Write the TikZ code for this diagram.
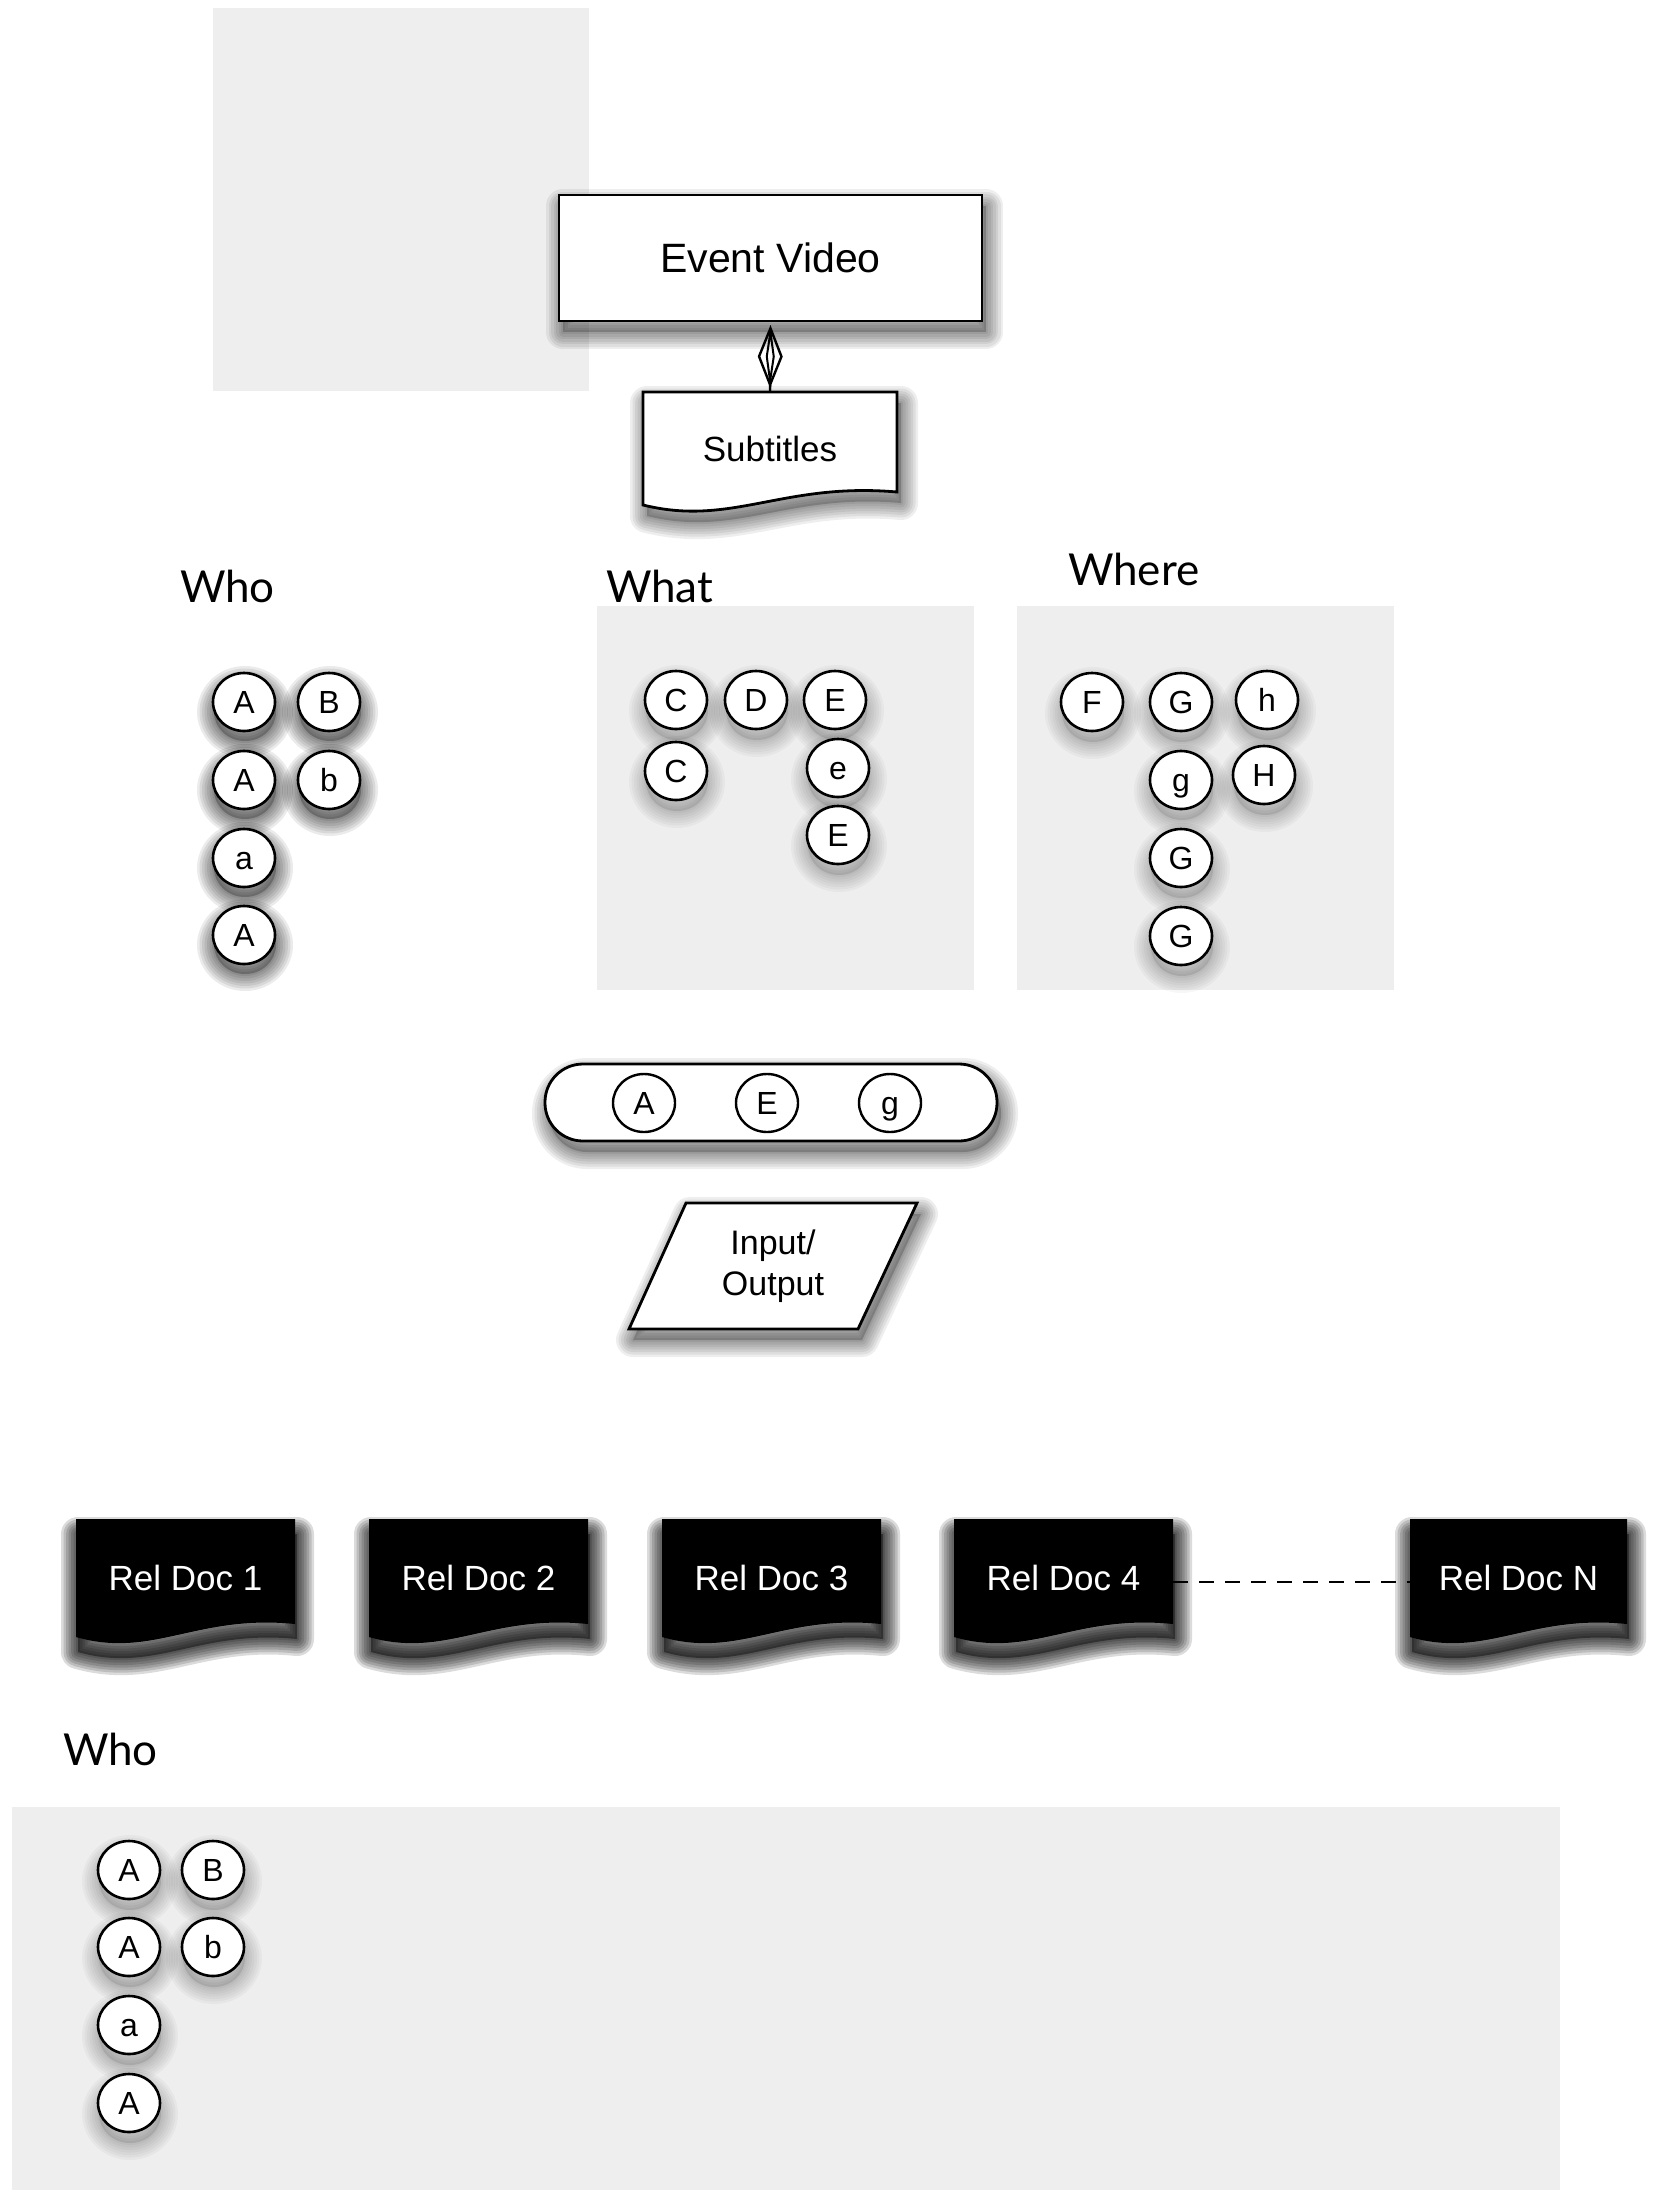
\documentclass[tikz,border=0pt]{standalone}
\usepackage{fontspec}
\setmainfont{Liberation Sans}
\newfontfamily\titlefont{Lato}
\usetikzlibrary{shapes.geometric,arrows.meta,calc}
\pgfdeclarelayer{back}
\pgfdeclarelayer{background}
\pgfsetlayers{back,background,main}
\definecolor{boxgray}{HTML}{EEEEEE}
\tikzset{
  every node/.style={inner sep=0pt, outer sep=0pt},
  shstep/.style n args={4}{preaction={draw=black, fill=none, draw opacity=#3, line width=#4, line join=round, transform canvas={xshift=#1, yshift=#2}}},
  softshadow/.style n args={3}{
    shstep={#1}{#2}{#3}{34pt}, shstep={#1}{#2}{#3}{29pt}, shstep={#1}{#2}{#3}{24pt},
    shstep={#1}{#2}{#3}{19pt}, shstep={#1}{#2}{#3}{14pt}, shstep={#1}{#2}{#3}{9pt},
    shstep={#1}{#2}{#3}{4pt},
    preaction={fill=black, draw=none, fill opacity=3*#3, transform canvas={xshift=#1, yshift=#2}}},
  circ/.style={ellipse, draw, line width=2.6pt, fill=white, minimum width=62pt, minimum height=58pt,
    text height=23pt, text depth=0pt, font=\fontsize{32pt}{38pt}\selectfont},
  darkshadow/.style={softshadow={1pt}{-10pt}{0.08}},
  lightshadow/.style={softshadow={1pt}{-11pt}{0.033}},
  boxshadow/.style={softshadow={4pt}{-11pt}{0.065}},
  docshadow/.style={softshadow={2pt}{-15pt}{0.14}},
  titletext/.style={anchor=base west, font=\titlefont\fontsize{44pt}{50pt}\selectfont},
  docpath/.style={insert path={(#1.north west) -- (#1.north east) -- ([yshift=13pt]#1.south east)
     .. controls ([yshift=23pt]$(#1.south west)!0.55!(#1.south east)$) and ([yshift=-22pt]$(#1.south west)!0.35!(#1.south east)$) .. (#1.south west) -- cycle}},
  relnode/.style={minimum width=219pt, minimum height=118pt, text=white, font=\fontsize{35pt}{42pt}\selectfont},
  outline/.style={draw, line width=2.8pt, line join=miter},
}
\begin{document}
\begin{tikzpicture}[x=1pt, y=-1pt]
\useasboundingbox (0,0) rectangle (1665,2197);
\begin{pgfonlayer}{back}
  \fill[white] (0,0) rectangle (1665,2197);
  \fill[boxgray] (213,8) rectangle (589,391);
  \fill[boxgray] (597,606) rectangle (974,990);
  \fill[boxgray] (1017,606) rectangle (1394,990);
  \fill[boxgray] (12,1807) rectangle (1560,2190);
\end{pgfonlayer}

% Event video and subtitles
\node[outline, fill=white, boxshadow, minimum width=423pt, minimum height=126pt,
      font=\fontsize{41pt}{49pt}\selectfont] (ev) at (770.5,258) {Event Video};
\node[minimum width=254pt, minimum height=113pt, font=\fontsize{35pt}{42pt}\selectfont] (sub) at (770,448.5) {Subtitles};
\begin{pgfonlayer}{background}
  \path[outline, fill=white, boxshadow, docpath=sub];
\end{pgfonlayer}
\draw[line width=2.4pt, shorten >=4pt, -{Diamond[open, length=63pt, width=25pt, line width=2.4pt]}] (sub.north) -- (ev.south);
\draw[line width=2pt, shorten >=4pt, -{Diamond[open, length=63pt, width=9pt, line width=2pt]}] (sub.north) -- (ev.south);

% titles
\node[titletext] (whot) at (180,602) {Who};
\node[titletext] (whatt) at (606,602) {What};
\node[titletext] (wheret) at (1068,585) {Where};
\node[titletext] (whob) at (63,1765) {Who};

% Who (top)
\node[circ, darkshadow] (wa1) at (244,702) {A};
\node[circ, darkshadow] (wb1) at (329,702) {B};
\node[circ, darkshadow] (wa2) at (244,780) {A};
\node[circ, darkshadow] (wb2) at (329,780) {b};
\node[circ, darkshadow] (wa3) at (244,858) {a};
\node[circ, darkshadow] (wa4) at (244,935) {A};

% What
\node[circ, lightshadow] (c1) at (676,700) {C};
\node[circ, lightshadow] (d1) at (756,700) {D};
\node[circ, lightshadow] (e1) at (835,700) {E};
\node[circ, lightshadow] (c2) at (676,771) {C};
\node[circ, lightshadow] (e2) at (838,768) {e};
\node[circ, lightshadow] (e3) at (838,835) {E};

% Where
\node[circ, lightshadow] (f1) at (1092,702) {F};
\node[circ, lightshadow] (g1) at (1181,702) {G};
\node[circ, lightshadow] (h1) at (1267,700) {h};
\node[circ, lightshadow] (g2) at (1181,780) {g};
\node[circ, lightshadow] (h2) at (1264,775) {H};
\node[circ, lightshadow] (g3) at (1181,858) {G};
\node[circ, lightshadow] (g4) at (1181,936) {G};

% pill
\node[outline, fill=white, boxshadow, rounded corners=38pt, minimum width=452pt, minimum height=77pt] (pill) at (771,1102.5) {};
\node[circ, line width=2.4pt] (pa) at (644,1103) {A};
\node[circ, line width=2.4pt] (pe) at (767,1103) {E};
\node[circ, line width=2.4pt] (pg) at (890,1103) {g};

% input/output
\node[minimum width=288pt, minimum height=126pt, align=center, font=\fontsize{34pt}{41pt}\selectfont] (io) at (773,1266) {Input/\\Output};
\begin{pgfonlayer}{background}
  \path[outline, fill=white, boxshadow] ([xshift=57pt]io.north west) -- (io.north east) -- ([xshift=-59pt]io.south east) -- (io.south west) -- cycle;
\end{pgfonlayer}

% related documents
\node[relnode] (r1) at (185.5,1578) {Rel Doc 1};
\node[relnode] (r2) at (478.5,1578) {Rel Doc 2};
\node[relnode] (r3) at (771.5,1578) {Rel Doc 3};
\node[relnode] (r4) at (1063.5,1578) {Rel Doc 4};
\node[relnode, minimum width=217pt] (rn) at (1518.5,1578) {Rel Doc N};
\begin{pgfonlayer}{background}
  \path[fill=black, docshadow, docpath=r1];
  \path[fill=black, docshadow, docpath=r2];
  \path[fill=black, docshadow, docpath=r3];
  \path[fill=black, docshadow, docpath=r4];
  \path[fill=black, docshadow, docpath=rn];
\end{pgfonlayer}
\draw[line width=2.8pt, dash pattern=on 15pt off 11pt] ([yshift=-4pt]r4.east) -- ([yshift=-4pt]rn.west);

% Who (bottom)
\node[circ, lightshadow] (ba1) at (129,1870) {A};
\node[circ, lightshadow] (bb1) at (213,1870) {B};
\node[circ, lightshadow] (ba2) at (129,1947) {A};
\node[circ, lightshadow] (bb2) at (213,1947) {b};
\node[circ, lightshadow] (ba3) at (129,2025) {a};
\node[circ, lightshadow] (ba4) at (129,2103) {A};
\end{tikzpicture}
\end{document}
